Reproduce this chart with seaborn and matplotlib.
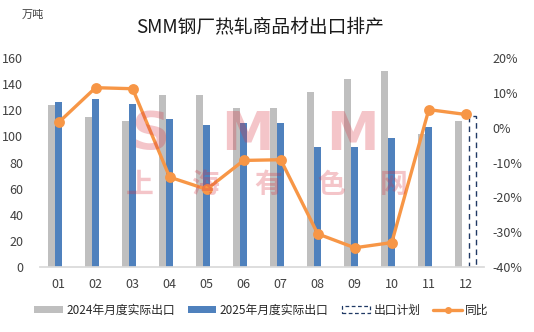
import matplotlib
matplotlib.use("Agg")
import matplotlib.pyplot as plt
from matplotlib.patches import Patch
from matplotlib.lines import Line2D
import seaborn as sns
import pandas as pd
import numpy as np

months = ["01", "02", "03", "04", "05", "06", "07", "08", "09", "10", "11", "12"]
exp_2024 = [124, 115, 112, 132, 132, 121.5, 122, 134, 144, 150, 101.5, 111.5]
exp_2025 = [126, 128.5, 125, 113, 108.5, 110, 110.5, 92, 92, 99, 107, np.nan]
plan = [np.nan] * 11 + [116]
yoy = [1.5, 11.5, 11.2, -14.2, -17.7, -9.4, -9.2, -30.5, -34.5, -33.0, 5.2, 3.8]

s24 = "2024年月度实际出口"
s25 = "2025年月度实际出口"
splan = "出口计划"
syoy = "同比"

sns.set_theme(style="white")
plt.rcParams["font.family"] = ["Noto Sans CJK SC", "DejaVu Sans"]

df = pd.DataFrame({
    "month": months * 3,
    "value": exp_2024 + exp_2025 + plan,
    "series": [s24] * 12 + [s25] * 12 + [splan] * 12,
})

fig = plt.figure(figsize=(5.34, 3.32), dpi=100)
ax = fig.add_axes([0.075, 0.196, 0.832, 0.629])

c24 = "#BFBFBF"
c25 = "#4F81BD"
cplan = "#1F3864"
cline = "#F79646"

sns.barplot(data=df, x="month", y="value", hue="series", order=months,
            hue_order=[s24, s25, splan], palette=[c24, c25, "white"],
            width=0.57, dodge=True, gap=0, ax=ax, legend=False,
            saturation=1, err_kws={"linewidth": 0})

for p in ax.containers[2]:
    p.set_facecolor("none")
    p.set_edgecolor(cplan)
    p.set_linestyle((0, (4, 3)))
    p.set_linewidth(1.0)
for cont in ax.containers[:2]:
    for p in cont:
        p.set_linewidth(0)

ax.set_ylim(0, 160)
ax.set_yticks(np.arange(0, 161, 20))
ax.set_xlim(-0.5, 11.5)
ax.set_xlabel("")
ax.set_ylabel("")
for s in ["top", "right", "left"]:
    ax.spines[s].set_visible(False)
ax.spines["bottom"].set_color("#D9D9D9")
ax.tick_params(axis="y", length=0, labelsize=9, colors="#404040", pad=12)
ax.tick_params(axis="x", which="major", length=0, labelsize=9, colors="#404040", pad=8)
ax.set_xticks(np.arange(-0.5, 12, 1), minor=True)
ax.tick_params(axis="x", which="minor", length=5, color="#D9D9D9", direction="out")

ax2 = ax.twinx()
sns.pointplot(x=months, y=yoy, order=months, ax=ax2, color=cline,
              markers="o", markersize=6, linewidth=2.4, errorbar=None)
ax2.set_xlim(-0.5, 11.5)
ax2.set_ylim(-40, 20)
ax2.set_yticks(np.arange(-40, 21, 10))
ax2.set_yticklabels([f"{v}%" for v in range(-40, 21, 10)])
ax2.set_ylabel("")
for s in ["top", "right", "left", "bottom"]:
    ax2.spines[s].set_visible(False)
ax2.tick_params(axis="y", length=0, labelsize=9, colors="#404040", pad=6)

fig.text(0.487, 0.918, "SMM钢厂热轧商品材出口排产", ha="center", va="center",
         fontsize=13.5, color="#1a1a1a")
fig.text(0.04, 0.955, "万吨", ha="left", va="center", fontsize=8, color="#404040")

# watermark
wm_color = "#D9303F"
for ch, xc in zip(["S", "M", "M"], [150, 247, 352]):
    fig.text(xc / 534, 1 - 150 / 332, ch, ha="center", va="baseline",
             fontsize=38, fontweight="bold", color=wm_color, alpha=0.28,
             family="DejaVu Sans", zorder=10)
for ch, xc in zip("上海有色网", [140, 205, 268, 331, 394]):
    fig.text(xc / 534, 1 - 185 / 332, ch, ha="center", va="center",
             fontsize=20, fontweight="bold", color=wm_color, alpha=0.28,
             zorder=10)

handles = [
    Patch(facecolor=c24, edgecolor="none"),
    Patch(facecolor=c25, edgecolor="none"),
    Patch(facecolor="none", edgecolor=cplan, linestyle=(0, (3, 2)), linewidth=0.9),
    Line2D([0], [0], color=cline, linewidth=2.4, marker="o", markersize=4),
]
fig.legend(handles, [s24, s25, splan, syoy], loc="center", ncol=4,
           bbox_to_anchor=(0.49, 0.066), frameon=False, fontsize=8.5,
           handlelength=2.4, handleheight=0.6, columnspacing=1.1,
           handletextpad=0.3, labelcolor="#262626")

fig.savefig("out.png", dpi=100)
